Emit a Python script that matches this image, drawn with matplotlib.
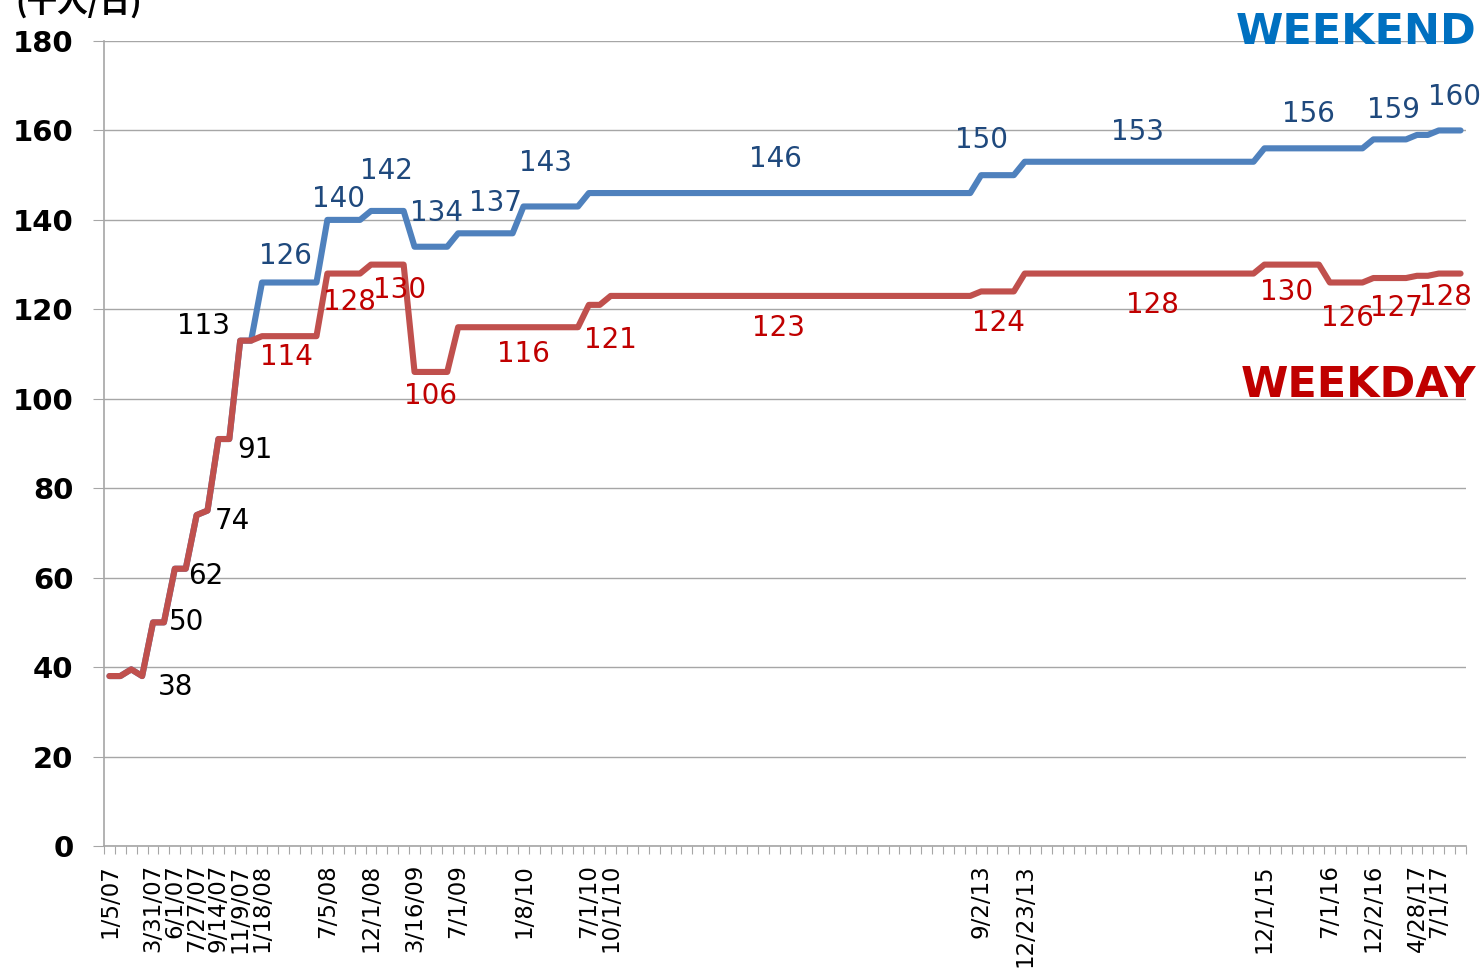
import numpy as np
import matplotlib
matplotlib.use("Agg")
import matplotlib.pyplot as plt

# category axis: 125 points, only some of them carry a date label
n_points = 125
date_idx = [0, 4, 6, 8, 10, 12, 14, 20, 24, 28, 32, 38, 44, 46, 80, 84, 106, 112, 116, 120, 122]
date_labels = ["1/5/07", "3/31/07", "6/1/07", "7/27/07", "9/14/07", "11/9/07", "1/18/08",
               "7/5/08", "12/1/08", "3/16/09", "7/1/09", "1/8/10", "7/1/10", "10/1/10",
               "9/2/13", "12/23/13", "12/1/15", "7/1/16", "12/2/16", "4/28/17", "7/1/17"]

# levels and how many categories each level lasts
weekday_levels = [38, 39.5, 38, 50, 62, 74, 75, 91, 113, 114, 128, 130, 106, 116, 121, 123,
                  124, 128, 130, 126, 127, 127.5, 128]
weekday_runs = [2, 1, 1, 2, 2, 1, 1, 2, 2, 6, 4, 4, 4, 12, 2, 34, 4, 22, 6, 4, 4, 2, 3]

weekend_levels = [38, 39.5, 38, 50, 62, 74, 75, 91, 113, 126, 140, 142, 134, 137, 143, 146,
                  150, 153, 156, 158, 159, 160]
weekend_runs = [2, 1, 1, 2, 2, 1, 1, 2, 2, 6, 4, 4, 4, 6, 6, 36, 4, 22, 10, 4, 2, 3]

weekday = np.repeat(weekday_levels, weekday_runs)
weekend = np.repeat(weekend_levels, weekend_runs)

# data labels: (category index, text, dx px, dy px)
shared_labels = [(3, "38", 33, -11), (5, "50", 23, 0), (7, "62", 20, -7), (9, "74", 25, -10),
                 (11, "91", 26, -11), (12, "113", -37, 15)]
weekday_labels = [(16, "114", 3, -21), (22, "128", 0, -28), (26, "130", 7, -25),
                  (29, "106", 5, -24), (38, "116", 0, -27), (45, "121", 11, -35),
                  (61, "123", 4, -32), (82, "124", -4, -32), (95, "128", 8, -31),
                  (108, "130", 0, -27), (114, "126", -4, -35), (118, "127", 1, -30),
                  (123, "128", -4, -23)]
weekend_labels = [(17, "126", -9, 27), (21, "140", 0, 21), (25, "142", 5, 40),
                  (29, "134", 11, 34), (34, "137", 16, 30), (40, "143", 0, 43),
                  (61, "146", 1, 34), (81, "150", -11, 35), (96, "153", -18, 30),
                  (110, "156", 0, 34), (118, "159", -2, 29), (123, "160", 5, 33)]

blue = "#4F81BD"
red = "#C0504D"
grid_col = "#A6A6A6"

fig = plt.figure(figsize=(14.83, 9.69), dpi=100)
ax = fig.add_axes([104 / 1483, 1 - 846 / 969, (1466 - 104) / 1483, (846 - 41) / 969])

x = np.arange(n_points)
ax.plot(x, weekend, color=blue, lw=4.4, solid_joinstyle="round", solid_capstyle="round", zorder=3)
ax.plot(x, weekday, color=red, lw=4.4, solid_joinstyle="round", solid_capstyle="round", zorder=4)

ax.set_xlim(-0.5, n_points - 0.5)
ax.set_ylim(0, 180)
ax.set_yticks(np.arange(0, 181, 20))
ax.yaxis.grid(True, color=grid_col, lw=1)
ax.set_axisbelow(True)

for s in ["top", "right"]:
    ax.spines[s].set_visible(False)
for s in ["left", "bottom"]:
    ax.spines[s].set_color(grid_col)
    ax.spines[s].set_linewidth(1.2)

ax.tick_params(axis="y", length=8, color=grid_col, pad=14, labelsize=21)
for t in ax.get_yticklabels():
    t.set_fontweight("bold")

# category boundaries as ticks, date labels on their own (no tick mark)
ax.set_xticks(np.arange(-0.5, n_points, 1.0))
ax.tick_params(axis="x", which="major", length=6, color=grid_col, labelbottom=False)
ax.set_xticks(date_idx, minor=True)
ax.set_xticklabels(date_labels, minor=True, rotation=90, fontsize=16.5)
ax.tick_params(axis="x", which="minor", length=0, pad=13)

def put_labels(items, series, color):
    for i, txt, dx, dy in items:
        ax.annotate(txt, (i, series[i]), xytext=(dx, dy), textcoords="offset pixels",
                    ha="center", va="center", fontsize=20, color=color, zorder=5)

put_labels(shared_labels, weekday, "black")
put_labels(weekday_labels, weekday, "#C00000")
put_labels(weekend_labels, weekend, "#1F497D")

fig.text(1476 / 1483, 1 - 32 / 969, "WEEKEND", ha="right", va="center",
         fontsize=31, fontweight="bold", color="#0070C0")
fig.text(1476 / 1483, 1 - 385 / 969, "WEEKDAY", ha="right", va="center",
         fontsize=31, fontweight="bold", color="#C00000")

# unit label, cut off at the top edge like the original
fig.text(142 / 1483, 1 - 2 / 969, "(千人/日)", ha="right", va="center", fontsize=22,
         fontweight="bold", family=["Noto Sans CJK JP", "DejaVu Sans"])

fig.savefig("out.png", dpi=100)
